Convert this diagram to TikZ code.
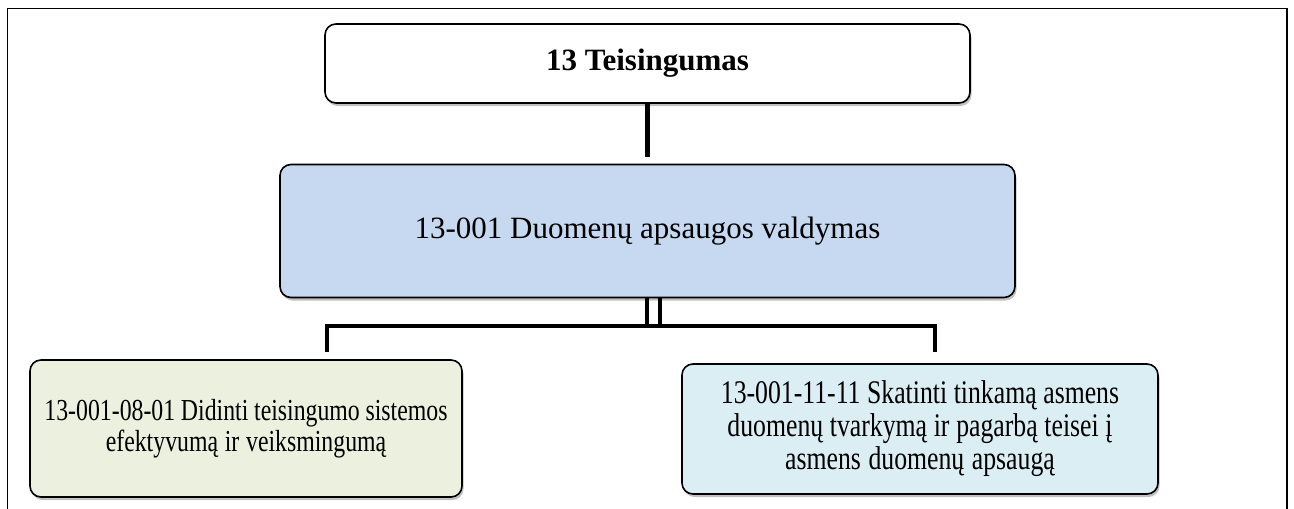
\documentclass[tikz,border=0pt]{standalone}
\usepackage{fontspec}
\setmainfont{Liberation Serif}
\newfontfamily\narrowserif[FakeStretch=0.78]{Liberation Serif}
\usetikzlibrary{shadows}
\definecolor{midblue}{HTML}{C6D9F1}
\definecolor{leftgreen}{HTML}{EBF1DE}
\definecolor{rightcyan}{HTML}{DBEEF4}
\newcommand\tightleft{\spaceskip=5.5pt plus 1pt minus 1pt\relax}
\newcommand\tightright{\spaceskip=6pt plus 1pt minus 1pt\relax}
\tikzset{
  boxstyle/.style={draw=black, line width=1.6pt, rounded corners=11pt, inner sep=0pt, align=center,
    drop shadow={shadow xshift=1.5pt, shadow yshift=-3pt, opacity=0.35, fill=black!70}},
  conn/.style={line width=4.5pt},
  thinconn/.style={line width=3.5pt},
  bigtxt/.style={font=\fontsize{31}{36}\selectfont},
  lefttxt/.style={font=\narrowserif\fontsize{30.5}{31}\selectfont},
  righttxt/.style={font=\narrowserif\fontsize{33}{33}\selectfont}
}
\begin{document}
\begin{tikzpicture}[x=1pt,y=-1pt]
\useasboundingbox (0,0) rectangle (1294,509);
% outer frame (open at the bottom)
\draw[line width=1.6pt] (7.5,512) -- (7.5,8.5) -- (1287,8.5) -- (1287,512);
% boxes
\node[boxstyle, fill=white, minimum width=645pt, minimum height=79pt, bigtxt] (t) at (647.5,63.5) {\textbf{13 Teisingumas}};
\node[boxstyle, fill=midblue, minimum width=735pt, minimum height=133pt, bigtxt] (m) at (647.5,231) {13-001 Duomenų apsaugos valdymas};
\node[boxstyle, fill=leftgreen, minimum width=432pt, minimum height=137pt, lefttxt, text width=432pt] (l) at (246,428.5) {\tightleft 13-001-08-01 Didinti teisingumo sistemos\\efektyvumą ir veiksmingumą};
\node[boxstyle, fill=rightcyan, minimum width=476pt, minimum height=130pt, righttxt, text width=476pt] (r) at (920,429) {\tightright 13-001-11-11 Skatinti tinkamą asmens\\duomenų tvarkymą ir pagarbą teisei į\\asmens duomenų apsaugą};
% connectors
\draw[conn, shorten >=7pt] (t.south) -- (m.north);
\coordinate (jl) at (327,326);
\coordinate (jr) at (935,326);
\coordinate (el) at (327,352);
\coordinate (er) at (935,352);
\coordinate (d1) at (647,326);
\coordinate (d2) at (660,326);
\draw[thinconn] (m.south -| d1) -- (d1);
\draw[thinconn] (m.south -| d2) -- (d2);
\draw[conn, line join=miter] (el) -- (jl) -- (jr) -- (er);
\end{tikzpicture}
\end{document}
